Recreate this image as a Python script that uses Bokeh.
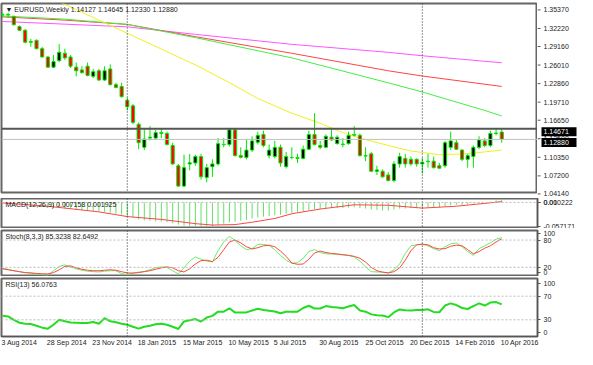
from bokeh.plotting import figure
from bokeh.layouts import column, row
from bokeh.models import Range1d, FixedTicker, Span, Label, ColumnDataSource
from bokeh.core.properties import value
from bokeh.embed import file_html
from bokeh.resources import INLINE

# ---------------- data (weekly EURUSD, bar index 0 = 3 Aug 2014) ----------------
opens = [1.3400, 1.3410, 1.3376, 1.3204, 1.3141, 1.2938, 1.2969, 1.2828, 1.2687, 1.2515,
         1.2625, 1.2750, 1.2687, 1.2515, 1.2468, 1.2531, 1.2359, 1.2453, 1.2296, 1.2484,
         1.2218, 1.2187, 1.1952, 1.1858, 1.1545, 1.1154, 1.1310, 1.1310, 1.1404, 1.1389,
         1.1185, 1.0841, 1.0496, 1.0870, 1.0888, 1.0997, 1.0640, 1.0825, 1.0872, 1.1200,
         1.1201, 1.1451, 1.1013, 1.0982, 1.1107, 1.1240, 1.1373, 1.1013, 1.0997, 1.1154,
         1.0825, 1.0982, 1.0982, 1.0966, 1.1122, 1.1373, 1.1185, 1.1154, 1.1326, 1.1216,
         1.1201, 1.1216, 1.1373, 1.1357, 1.1013, 1.1044, 1.0748, 1.0748, 1.0685, 1.0591,
         1.0872, 1.0966, 1.0950, 1.0950, 1.0872, 1.0919, 1.0919, 1.0841, 1.0841, 1.1154,
         1.1232, 1.1107, 1.0950, 1.0997, 1.1154, 1.1263, 1.1185, 1.1389, 1.14127]
highs = [1.3440, 1.3440, 1.3390, 1.3220, 1.3160, 1.2995, 1.2985, 1.2860, 1.2700, 1.2719,
         1.2906, 1.2828, 1.2719, 1.2593, 1.2531, 1.2593, 1.2484, 1.2484, 1.2531, 1.2562,
         1.2249, 1.2250, 1.1998, 1.1889, 1.1576, 1.1467, 1.1514, 1.1451, 1.1467, 1.1420,
         1.1232, 1.0872, 1.1029, 1.1040, 1.1029, 1.1044, 1.0872, 1.0950, 1.1310, 1.1310,
         1.1483, 1.1483, 1.1154, 1.1279, 1.1341, 1.1420, 1.1436, 1.1201, 1.1263, 1.1201,
         1.1076, 1.1154, 1.1044, 1.1185, 1.1436, 1.1733, 1.1263, 1.1373, 1.1467, 1.1357,
         1.1310, 1.1420, 1.1514, 1.1389, 1.1154, 1.1076, 1.0841, 1.0779, 1.0732, 1.0919,
         1.1060, 1.1044, 1.0997, 1.0966, 1.0970, 1.1044, 1.0997, 1.0888, 1.1263, 1.1420,
         1.1279, 1.1122, 1.1044, 1.1185, 1.1341, 1.1310, 1.1436, 1.1483, 1.14645]
lows = [1.3360, 1.3350, 1.3220, 1.3133, 1.2922, 1.2860, 1.2820, 1.2680, 1.2500, 1.2500,
        1.2600, 1.2640, 1.2500, 1.2359, 1.2405, 1.2359, 1.2328, 1.2280, 1.2280, 1.2203,
        1.2155, 1.1998, 1.1780, 1.1545, 1.1122, 1.1107, 1.1270, 1.1287, 1.1310, 1.1185,
        1.0856, 1.0481, 1.0481, 1.0763, 1.0841, 1.0606, 1.0559, 1.0653, 1.0841, 1.1155,
        1.1170, 1.0997, 1.0966, 1.0950, 1.1076, 1.1201, 1.1154, 1.0966, 1.0966, 1.0825,
        1.0794, 1.0950, 1.0888, 1.0950, 1.1107, 1.1185, 1.1122, 1.1154, 1.1263, 1.1201,
        1.1154, 1.1201, 1.1341, 1.0997, 1.0919, 1.0732, 1.0685, 1.0638, 1.0575, 1.0559,
        1.0809, 1.0809, 1.0841, 1.0825, 1.0710, 1.0809, 1.0794, 1.0794, 1.0809, 1.1107,
        1.1107, 1.0919, 1.0809, 1.0809, 1.1122, 1.1154, 1.1154, 1.1357, 1.12330]
closes = [1.3410, 1.3400, 1.3235, 1.3141, 1.2938, 1.2950, 1.2828, 1.2687, 1.2515, 1.2609,
          1.2766, 1.2672, 1.2531, 1.2453, 1.2421, 1.2374, 1.2437, 1.2296, 1.2453, 1.2218,
          1.2171, 1.2014, 1.1842, 1.1576, 1.1232, 1.1295, 1.1326, 1.1404, 1.1389, 1.1201,
          1.0872, 1.0496, 1.0809, 1.0890, 1.0997, 1.0653, 1.0809, 1.0872, 1.1216, 1.1205,
          1.1451, 1.1013, 1.0985, 1.1107, 1.1263, 1.1357, 1.1185, 1.1107, 1.1154, 1.0888,
          1.0997, 1.0980, 1.0966, 1.1122, 1.1373, 1.1201, 1.1154, 1.1341, 1.1279, 1.1326,
          1.1210, 1.1357, 1.1360, 1.1013, 1.1005, 1.0748, 1.0770, 1.0653, 1.0591, 1.0872,
          1.0997, 1.0872, 1.0872, 1.0872, 1.0900, 1.0910, 1.0809, 1.0800, 1.1232, 1.1263,
          1.1122, 1.0950, 1.1013, 1.1154, 1.1279, 1.1185, 1.1389, 1.1396, 1.12880]

# moving averages read at a few bars (bar index, price)
ma_yellow_idx = [8, 17, 22, 28, 34, 40, 45, 51, 56, 60, 63, 68, 72, 77, 82, 85, 88]
ma_yellow_val = [1.3714, 1.3313, 1.3090, 1.2822, 1.2553, 1.2252, 1.1983, 1.1733, 1.1561,
                 1.1404, 1.1310, 1.1185, 1.1091, 1.1029, 1.1044, 1.1076, 1.1107]
ma_green_idx = [0, 11, 22, 34, 51, 68, 74, 85, 88]
ma_green_val = [1.3384, 1.3329, 1.3240, 1.3016, 1.2672, 1.2249, 1.2093, 1.1780, 1.1686]
ma_red_idx = [0, 11, 22, 34, 51, 68, 74, 88]
ma_red_val = [1.3368, 1.3313, 1.3240, 1.3032, 1.2750, 1.2453, 1.2364, 1.2187]
ma_magenta_idx = [0, 22, 34, 51, 68, 74, 88]
ma_magenta_val = [1.3290, 1.3199, 1.3071, 1.2902, 1.2766, 1.2708, 1.2589]

macd_main = [-0.0022, -0.0033, -0.0044, -0.0055, -0.0066, -0.0077, -0.0088, -0.0099, -0.0121, -0.0132,
             -0.0132, -0.0143, -0.0154, -0.0165, -0.0176, -0.0187, -0.0198, -0.0209, -0.0220, -0.0242,
             -0.0264, -0.0286, -0.0319, -0.0352, -0.0396, -0.0418, -0.0429, -0.0440, -0.0451, -0.0462,
             -0.0484, -0.0517, -0.0539, -0.0550, -0.0561, -0.05717, -0.0570, -0.0561, -0.0528, -0.0495,
             -0.0462, -0.0451, -0.0429, -0.0407, -0.0374, -0.0352, -0.0330, -0.0319, -0.0297, -0.0286,
             -0.0264, -0.0242, -0.0231, -0.0209, -0.0176, -0.0154, -0.0154, -0.0143, -0.0132, -0.0132,
             -0.0132, -0.0121, -0.0110, -0.0132, -0.0143, -0.0165, -0.0176, -0.0187, -0.0187, -0.0165,
             -0.0143, -0.0143, -0.0132, -0.0132, -0.0121, -0.0121, -0.0121, -0.0121, -0.0088, -0.0066,
             -0.0055, -0.0055, -0.0044, -0.0022, -0.0011, 0.0000, 0.0022, 0.0044, 0.007158]
macd_sig_idx = [0, 8, 17, 22, 28, 34, 37, 41, 44, 48, 51, 56, 62, 68, 74, 80, 85, 88]
macd_sig_val = [-0.0011, -0.0088, -0.0220, -0.0330, -0.0396, -0.0495, -0.0528, -0.0517, -0.0462,
                -0.0374, -0.0264, -0.0154, -0.0055, -0.0066, -0.0132, -0.0088, -0.0022, 0.001925]

stoch_main = [17.9, 15.8, 12.6, 10.5, 8.4, 7.4, 5.3, 3.6, 2.7, 12.6, 22.1, 25.3, 21.0, 16.8, 13.7,
              11.6, 10.5, 9.9, 11.6, 12.6, 12.6, 6.3, 4.2, 7.4, 9.5, 11.2, 14.7, 18.9, 21.0, 20.0,
              12.6, 5.7, 18.9, 33.7, 42.7, 37.9, 33.7, 32.2, 56.8, 75.8, 88.4, 78.9, 67.4, 58.9, 61.1,
              70.5, 70.5, 68.4, 58.9, 46.3, 35.8, 28.8, 30.5, 40.0, 54.7, 58.9, 52.6, 49.9, 49.5, 48.4,
              47.4, 46.3, 42.7, 33.7, 21.0, 10.5, 9.9, 9.5, 7.8, 14.7, 27.4, 50.5, 67.4, 69.5, 70.9,
              67.4, 61.1, 56.8, 65.3, 71.6, 73.7, 65.3, 54.7, 46.3, 61.1, 67.4, 73.7, 82.1, 85.3238]
stoch_signal = [16.8, 14.7, 12.6, 10.5, 8.4, 7.8, 6.7, 5.9, 5.7, 8.4, 14.7, 22.1, 23.2, 18.9, 15.8,
                13.7, 12.6, 12.6, 13.7, 14.7, 13.7, 10.5, 7.8, 7.4, 8.4, 10.5, 12.6, 15.8, 18.9, 21.0,
                18.9, 12.6, 9.9, 16.8, 27.4, 34.7, 35.8, 32.6, 42.1, 58.9, 75.8, 80.0, 73.7, 65.3, 60.4,
                63.2, 67.4, 68.4, 65.3, 55.8, 44.2, 29.5, 26.7, 27.4, 37.9, 51.6, 55.8, 52.6, 50.5, 49.5,
                47.8, 46.3, 44.2, 40.0, 31.6, 20.0, 12.6, 9.5, 7.8, 10.5, 18.9, 35.8, 56.8, 69.5, 70.9,
                69.5, 63.2, 60.4, 61.1, 66.3, 68.8, 67.4, 58.9, 49.9, 54.7, 62.1, 67.4, 75.8, 82.6492]

rsi = [36.7, 35.8, 30.0, 25.0, 23.3, 22.8, 20.0, 16.7, 15.0, 21.7, 30.0, 27.5, 25.5, 25.0, 24.5,
       24.5, 26.2, 23.3, 32.8, 27.5, 25.8, 23.3, 21.7, 18.3, 15.0, 18.3, 20.0, 22.5, 23.3, 21.7,
       18.3, 14.5, 27.2, 29.2, 31.2, 27.2, 33.8, 36.7, 43.8, 43.8, 49.5, 42.2, 42.2, 42.5, 45.8,
       48.7, 46.7, 45.5, 44.2, 41.2, 43.8, 43.8, 43.8, 50.0, 53.8, 49.2, 49.2, 53.3, 51.7, 50.8,
       49.5, 52.5, 55.0, 45.8, 43.8, 39.2, 37.8, 37.2, 34.5, 42.5, 47.5, 46.2, 45.8, 46.7, 46.7,
       47.8, 43.3, 42.8, 54.2, 57.8, 55.0, 50.0, 48.3, 53.3, 57.8, 54.2, 59.2, 60.0, 56.0763]

date_idx = [0, 8, 16, 24, 32, 40, 48, 56, 64, 72, 80, 88]
date_labels = ["3 Aug 2014", "28 Sep 2014", "23 Nov 2014", "18 Jan 2015", "15 Mar 2015",
               "10 May 2015", "5 Jul 2015", "30 Aug 2015", "25 Oct 2015", "20 Dec 2015",
               "14 Feb 2016", "10 Apr 2016"]
price_ticks = [1.35370, 1.32220, 1.29160, 1.26010, 1.22860, 1.19710, 1.16650, 1.13500,
               1.10350, 1.07200, 1.04140]
year_sep_idx = [22, 74]
marked_levels = [1.14671, 1.12880]   # horizontal line, bid line

FONT = "Liberation Sans"
FS_PX = 7
FS = f"{FS_PX}px"
FRAME_W = 536
SIDE_W = 40
X0, X1 = -0.17, 94.3
x_rng = Range1d(X0, X1)
PX_PER_BAR = FRAME_W / (X1 - X0)
P_LO, P_HI = 1.0387, 1.3595
MAIN_H = 189
MAIN_TOP, MAIN_BOT = 3, 6

# approximate Liberation Sans advance widths (per 1000 em), used to left-align date labels
_CW = {" ": 278, "A": 667, "S": 667, "N": 722, "J": 500, "M": 833, "O": 778, "D": 722,
       "F": 611, "u": 556, "g": 556, "e": 556, "p": 556, "o": 556, "v": 500, "a": 556,
       "n": 556, "r": 333, "y": 500, "l": 222, "c": 500, "b": 556}


def text_px(s):
    return sum(_CW.get(ch, 556) for ch in s) * FS_PX / 1000.0


def style_axis(ax):
    ax.axis_line_color = "#555555"
    ax.major_tick_line_color = "#555555"
    ax.major_tick_out = 3
    ax.major_tick_in = 0
    ax.minor_tick_line_color = None
    ax.major_label_standoff = 3
    ax.major_label_text_font = FONT
    ax.major_label_text_font_size = FS
    ax.major_label_text_color = "#222222"


def panel(h, y_rng, top=2, bottom=1, show_x=False, show_y=True):
    p = figure(frame_width=FRAME_W, frame_height=h, x_range=x_rng, y_range=y_rng,
               output_backend="svg", toolbar_location=None,
               y_axis_location="right" if show_y else None,
               x_axis_location="below" if show_x else None,
               min_border_left=1, min_border_right=SIDE_W if show_y else 0,
               min_border_top=top, min_border_bottom=bottom)
    p.grid.visible = False
    p.outline_line_color = "#666666"
    p.outline_line_width = 2
    p.background_fill_color = "white"
    p.border_fill_color = "white"
    if show_y:
        style_axis(p.yaxis[0])
    for loc in year_sep_idx:
        p.add_layout(Span(location=loc, dimension="height", line_color="#222222",
                          line_dash="1 2", line_width=1))
    return p


def title(p, txt, y):
    p.add_layout(Label(x=X0, y=y, x_offset=4, y_offset=-2, text=txt,
                       text_baseline="top", text_align="left", text_font=FONT,
                       text_font_size=FS, text_color="#222222"))


n = len(closes)
idx = list(range(n))

# ---------------- main price panel ----------------
pm = panel(MAIN_H, Range1d(P_LO, P_HI), top=MAIN_TOP, bottom=MAIN_BOT, show_y=False)

pm.add_layout(Span(location=marked_levels[0], dimension="width", line_color="#555555", line_width=2))
pm.add_layout(Span(location=marked_levels[1], dimension="width", line_color="#c0c0c0", line_width=1))

pm.line(ma_magenta_idx, ma_magenta_val, line_color="#ff55ff", line_width=1)
pm.line(ma_red_idx, ma_red_val, line_color="#ff4444", line_width=1)
pm.line(ma_green_idx, ma_green_val, line_color="#44ee44", line_width=1)
pm.line(ma_yellow_idx, ma_yellow_val, line_color="#f0f020", line_width=1)

src = ColumnDataSource(dict(
    x=idx, lo=lows, hi=highs,
    top=[max(o, c) for o, c in zip(opens, closes)],
    bot=[min(o, c) for o, c in zip(opens, closes)],
    col=["black" if c >= o else "#ff0000" for o, c in zip(opens, closes)],
))
pm.segment(x0="x", y0="lo", x1="x", y1="hi", source=src, line_color="#00e600", line_width=1)
pm.vbar(x="x", width=0.55, top="top", bottom="bot", source=src, fill_color="col",
        line_color="#00e600", line_width=1)
title(pm, "\u25bc EURUSD,Weekly  1.14127 1.14645 1.12330 1.12880", P_HI)

# price scale column: same price scale as the main panel, covering its top/bottom borders too
S = (P_HI - P_LO) / MAIN_H
ps = figure(frame_width=SIDE_W, frame_height=MAIN_H + MAIN_TOP + MAIN_BOT,
            x_range=Range1d(0, SIDE_W),
            y_range=Range1d(P_LO - MAIN_BOT * S, P_HI + MAIN_TOP * S), output_backend="svg",
            toolbar_location=None, x_axis_location=None, y_axis_location=None,
            min_border_left=0, min_border_right=0, min_border_top=0, min_border_bottom=0)
ps.grid.visible = False
ps.outline_line_color = None
ps.background_fill_color = "white"
ps.border_fill_color = "white"
k = len(price_ticks)
ps.segment(x0=[0] * k, y0=price_ticks, x1=[3] * k, y1=price_ticks, line_color="#555555")
ps.text(x=[6] * k, y=price_ticks, text=[f"{v:.5f}" for v in price_ticks],
        text_font=value(FONT), text_font_size=value(FS), text_baseline="middle",
        text_align="left", text_color="#222222")
m = len(marked_levels)
ps.quad(left=[4] * m, right=[SIDE_W - 1] * m, bottom=[v - 4.5 * S for v in marked_levels],
        top=[v + 4.5 * S for v in marked_levels], fill_color="black", line_color=None)
ps.text(x=[6] * m, y=marked_levels, text=[f"{v:.5f}" for v in marked_levels],
        text_font=value(FONT), text_font_size=value(FS), text_baseline="middle",
        text_align="left", text_color="white")

# ---------------- MACD panel ----------------
pmacd = panel(29, Range1d(-0.0585, 0.0092), top=0)
macd_ticks = [0.0, 0.000001, -0.0555]
pmacd.yaxis[0].ticker = FixedTicker(ticks=macd_ticks)
pmacd.yaxis[0].major_label_overrides = {0.0: "0.00", 0.000001: "0.010222", -0.0555: "-0.057171"}
pmacd.add_layout(Span(location=0, dimension="width", line_color="#bbbbbb", line_dash="2 2"))
pmacd.segment(x0=idx, y0=[0] * n, x1=idx, y1=macd_main, line_color="#66dd66", line_width=1)
pmacd.line(macd_sig_idx, macd_sig_val, line_color="#ff4444", line_width=1)
title(pmacd, "MACD(12,26,9) 0.007158 0.001925", 0.0092)

# ---------------- Stochastic panel ----------------
pst = panel(45, Range1d(2.1, 101))
pst.yaxis[0].ticker = FixedTicker(ticks=[95, 80, 20, 8.5])
pst.yaxis[0].major_label_overrides = {95: "100", 80: "80", 20: "20", 8.5: "0"}
for lv in (80, 20):
    pst.add_layout(Span(location=lv, dimension="width", line_color="#bbbbbb", line_dash="2 2"))
pst.line(idx, stoch_main, line_color="#66ee66", line_width=1)
pst.line(idx, stoch_signal, line_color="#ff4444", line_width=1)
title(pst, "Stoch(8,3,3) 85.3238 82.6492", 101)

# ---------------- RSI panel ----------------
RSI_LO = 1.7
prsi = panel(58, Range1d(RSI_LO, 100), bottom=13, show_x=True)
prsi.yaxis[0].ticker = FixedTicker(ticks=[92, 70, 30, 8])
prsi.yaxis[0].major_label_overrides = {92: "100", 70: "70", 30: "30", 8: "0"}
for lv in (70, 30):
    prsi.add_layout(Span(location=lv, dimension="width", line_color="#bbbbbb", line_dash="2 2"))
prsi.line(idx, rsi, line_color="#22dd22", line_width=2)
title(prsi, "RSI(13) 56.0763", 100)

# date labels start at their bar (terminal style): centre each label half its width to the right
date_pos = [i + (text_px(s) / 2.0 - 1.0) / PX_PER_BAR for i, s in zip(date_idx, date_labels)]
xa = prsi.xaxis[0]
xa.ticker = FixedTicker(ticks=date_pos)
xa.major_label_overrides = {p_: s for p_, s in zip(date_pos, date_labels)}
xa.major_label_text_font = FONT
xa.major_label_text_font_size = FS
xa.major_label_text_color = "#222222"
xa.major_label_standoff = 2
xa.major_tick_out = 0
xa.major_tick_in = 0
xa.minor_tick_line_color = None
xa.axis_line_color = "#555555"

layout = column(row(pm, ps, spacing=0), pmacd, pst, prsi, spacing=0)
open("out.html", "w").write(file_html(layout, INLINE))
